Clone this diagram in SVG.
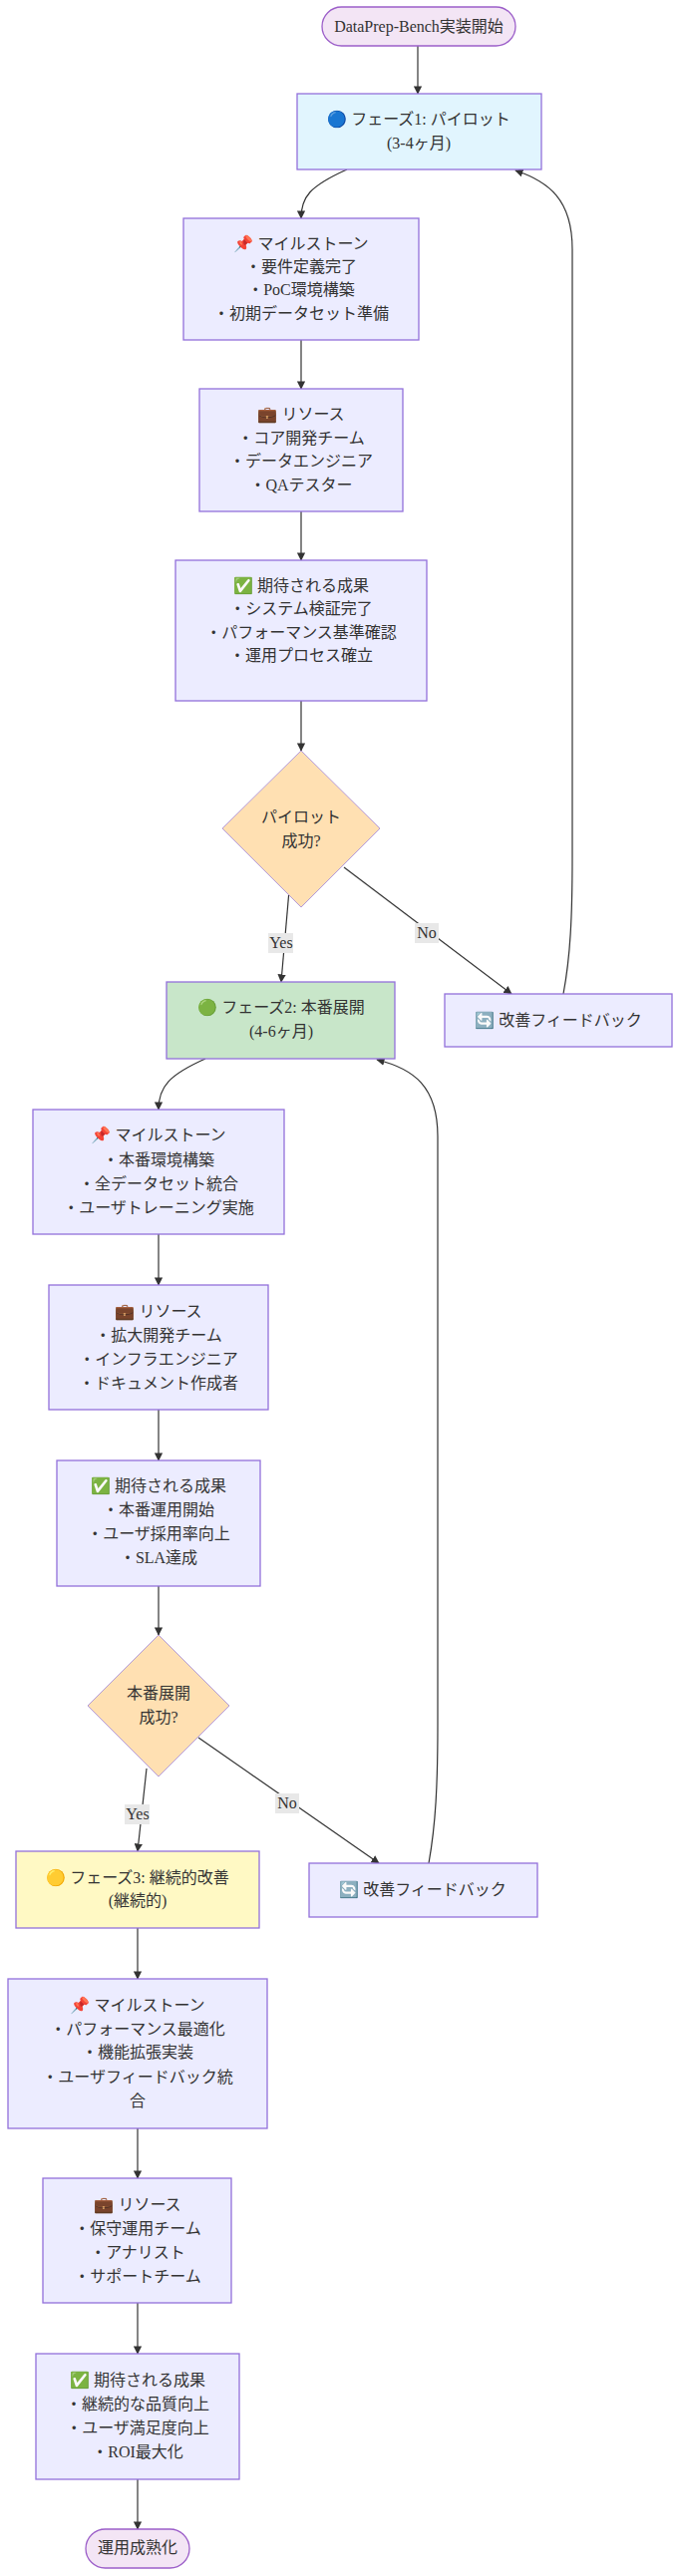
<svg xmlns="http://www.w3.org/2000/svg" width="681" height="2584" viewBox="0 0 681 2584">
<style>
text{font-family:"Liberation Serif","Noto Sans CJK JP",serif;font-size:16px;fill:#333;text-anchor:middle}
.n{fill:#ECECFF;stroke:#9370DB;stroke-width:1.3}
.t{fill:#F3E5F5;stroke:#9C5FC9;stroke-width:1.3}
.d{fill:#FFE0B2;stroke:#B59AD8;stroke-width:1}
.e{fill:none;stroke:#333;stroke-width:1.2}
.lb{fill:#e8e8e8}
</style>
<defs><marker id="a" viewBox="0 0 10 10" refX="9" refY="5" markerWidth="7" markerHeight="7" orient="auto"><path d="M0,0L10,5L0,10z" fill="#333"/></marker></defs>
<g id="connectors">
<path class="e" marker-end="url(#a)" d="M419,46L419,94"/>
<path class="e" marker-end="url(#a)" d="M348,170C310,187 302,198 302,219"/>
<path class="e" marker-end="url(#a)" d="M302,341L302,390"/>
<path class="e" marker-end="url(#a)" d="M302,513L302,562"/>
<path class="e" marker-end="url(#a)" d="M302,703L302,753"/>
<path class="e" marker-end="url(#a)" d="M290,893L282,985"/>
<path class="e" marker-end="url(#a)" d="M345,870L513,997"/>
<path class="e" marker-end="url(#a)" d="M565,997C572,960 574,920 574,860L574,250C574,200 550,182 517,171"/>
<path class="e" marker-end="url(#a)" d="M206,1062C170,1078 159,1090 159,1113"/>
<path class="e" marker-end="url(#a)" d="M159,1238L159,1289"/>
<path class="e" marker-end="url(#a)" d="M159,1414L159,1465"/>
<path class="e" marker-end="url(#a)" d="M159,1591L159,1640"/>
<path class="e" marker-end="url(#a)" d="M147,1774L138,1857"/>
<path class="e" marker-end="url(#a)" d="M199,1743L380,1869"/>
<path class="e" marker-end="url(#a)" d="M430,1869C437,1830 439,1790 439,1730L439,1140C439,1090 415,1072 378,1063"/>
<path class="e" marker-end="url(#a)" d="M138,1934L138,1985"/>
<path class="e" marker-end="url(#a)" d="M138,2135L138,2185"/>
<path class="e" marker-end="url(#a)" d="M138,2310L138,2361"/>
<path class="e" marker-end="url(#a)" d="M138,2487L138,2537"/>
<rect class="lb" x="269" y="936" width="25" height="20"/><text x="282" y="951">Yes</text>
<rect class="lb" x="416" y="926" width="24" height="20"/><text x="428" y="941">No</text>
<rect class="lb" x="125" y="1810" width="25" height="20"/><text x="138" y="1825">Yes</text>
<rect class="lb" x="276" y="1799" width="24" height="20"/><text x="288" y="1814">No</text>
</g>
<g id="start"><rect class="t" x="323" y="7" width="194" height="39" rx="19.5"/><text x="420" y="32">DataPrep-Bench実装開始</text></g>
<g id="phase1"><rect x="298" y="94" width="245" height="76" fill="#E1F5FE" stroke="#9370DB" stroke-width="1.3"/><text x="420" y="125">🔵 フェーズ1: パイロット</text><text x="420" y="149">(3-4ヶ月)</text></g>
<g id="m1"><rect class="n" x="184" y="219" width="236" height="122"/><text x="302" y="250">📌 マイルストーン</text><text x="302" y="273">・要件定義完了</text><text x="302" y="296">・PoC環境構築</text><text x="302" y="320">・初期データセット準備</text></g>
<g id="r1"><rect class="n" x="200" y="390" width="204" height="123"/><text x="302" y="421">💼 リソース</text><text x="302" y="445">・コア開発チーム</text><text x="302" y="468">・データエンジニア</text><text x="302" y="492">・QAテスター</text></g>
<g id="o1"><rect class="n" x="176" y="562" width="252" height="141"/><text x="302" y="593">✅ 期待される成果</text><text x="302" y="616">・システム検証完了</text><text x="302" y="640">・パフォーマンス基準確認</text><text x="302" y="663">・運用プロセス確立</text></g>
<g id="d1"><path class="d" d="M302,753L381,831L302,910L223,831z"/><text x="302" y="825">パイロット</text><text x="302" y="849">成功?</text></g>
<g id="phase2"><rect x="167" y="985" width="229" height="77" fill="#C8E6C9" stroke="#9370DB" stroke-width="1.3"/><text x="282" y="1016">🟢 フェーズ2: 本番展開</text><text x="282" y="1040">(4-6ヶ月)</text></g>
<g id="fb1"><rect class="n" x="446" y="997" width="228" height="53"/><text x="560" y="1029">🔄 改善フィードバック</text></g>
<g id="m2"><rect class="n" x="33" y="1113" width="252" height="125"/><text x="159" y="1144">📌 マイルストーン</text><text x="159" y="1169">・本番環境構築</text><text x="159" y="1193">・全データセット統合</text><text x="159" y="1217">・ユーザトレーニング実施</text></g>
<g id="r2"><rect class="n" x="49" y="1289" width="220" height="125"/><text x="159" y="1321">💼 リソース</text><text x="159" y="1345">・拡大開発チーム</text><text x="159" y="1369">・インフラエンジニア</text><text x="159" y="1393">・ドキュメント作成者</text></g>
<g id="o2"><rect class="n" x="57" y="1465" width="204" height="126"/><text x="159" y="1496">✅ 期待される成果</text><text x="159" y="1520">・本番運用開始</text><text x="159" y="1544">・ユーザ採用率向上</text><text x="159" y="1568">・SLA達成</text></g>
<g id="d2"><path class="d" d="M159,1640L230,1711L159,1782L88,1711z"/><text x="159" y="1704">本番展開</text><text x="159" y="1728">成功?</text></g>
<g id="phase3"><rect x="16" y="1857" width="244" height="77" fill="#FFF9C4" stroke="#9370DB" stroke-width="1.3"/><text x="138" y="1889">🟡 フェーズ3: 継続的改善</text><text x="138" y="1912">(継続的)</text></g>
<g id="fb2"><rect class="n" x="310" y="1869" width="229" height="54"/><text x="424" y="1901">🔄 改善フィードバック</text></g>
<g id="m3"><rect class="n" x="8" y="1985" width="260" height="150"/><text x="138" y="2017">📌 マイルストーン</text><text x="138" y="2041">・パフォーマンス最適化</text><text x="138" y="2064">・機能拡張実装</text><text x="138" y="2089">・ユーザフィードバック統</text><text x="138" y="2113">合</text></g>
<g id="r3"><rect class="n" x="43" y="2185" width="189" height="125"/><text x="138" y="2217">💼 リソース</text><text x="138" y="2241">・保守運用チーム</text><text x="138" y="2265">・アナリスト</text><text x="138" y="2289">・サポートチーム</text></g>
<g id="o3"><rect class="n" x="36" y="2361" width="204" height="126"/><text x="138" y="2393">✅ 期待される成果</text><text x="138" y="2417">・継続的な品質向上</text><text x="138" y="2441">・ユーザ満足度向上</text><text x="138" y="2465">・ROI最大化</text></g>
<g id="end"><rect class="t" x="86" y="2537" width="104" height="39" rx="19.5"/><text x="138" y="2561">運用成熟化</text></g>
</svg>
